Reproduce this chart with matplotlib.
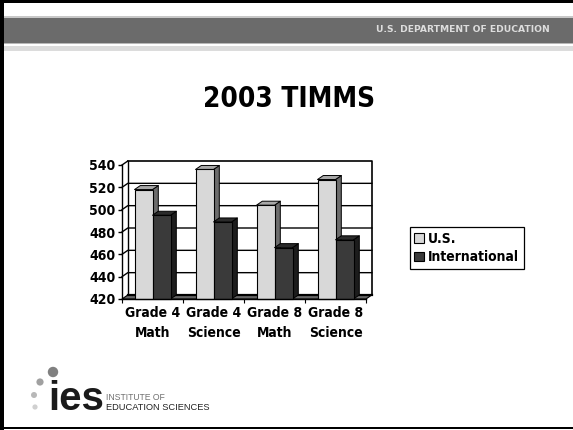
import matplotlib
matplotlib.use("Agg")
import matplotlib.pyplot as plt
from matplotlib.patches import Polygon, Patch, Rectangle, Circle

categories = ["Grade 4\nMath", "Grade 4\nScience", "Grade 8\nMath", "Grade 8\nScience"]
us_values = [518, 536, 504, 527]
intl_values = [495, 489, 466, 473]
y_ticks = [420, 440, 460, 480, 500, 520, 540]
series_names = ["U.S.", "International"]

W, H = 573, 430
FACE_L, TOP_L, SIDE_L = "#d8d8d8", "#a8a8a8", "#6c6c6c"
FACE_D, TOP_D, SIDE_D = "#3a3a3a", "#2b2b2b", "#1c1c1c"
FONT = "DejaVu Sans"

fig = plt.figure(figsize=(W / 100, H / 100), dpi=100, facecolor="white")

# slide furniture, drawn in pixel coordinates
bg = fig.add_axes([0, 0, 1, 1], zorder=0)
bg.set_xlim(0, W)
bg.set_ylim(H, 0)
bg.axis("off")
bg.add_patch(Rectangle((4, 17.5), W, 25, fc="#6b6b6b", ec="none"))
bg.add_patch(Rectangle((4, 16), W, 1.5, fc="#c8c8c8", ec="none"))
bg.add_patch(Rectangle((4, 42.5), W, 1, fc="#b8b8b8", ec="none"))
bg.add_patch(Rectangle((4, 46), W, 4.5, fc="#dcdcdc", ec="none"))
bg.add_patch(Rectangle((0, 0), W, 2.7, fc="black", ec="none"))
bg.add_patch(Rectangle((0, 0), 4.4, H, fc="black", ec="none"))
bg.add_patch(Rectangle((0, 426.5), W, 2.5, fc="black", ec="none"))
bg.text(462.5, 30, "U.S. DEPARTMENT OF EDUCATION", color="#dddddd", fontsize=6.6,
        fontweight="bold", family=FONT, ha="center", va="center")
bg.text(289.5, 99, "2003 TIMMS", fontsize=20, fontweight="bold", family=FONT, stretch="condensed",
        ha="center", va="center", color="black")
for (cx, cy, r, c) in [(53, 372, 5.2, "#808080"), (40, 382, 3.6, "#a0a0a0"),
                       (34, 395, 3.0, "#b8b8b8"), (35, 407, 2.6, "#d0d0d0")]:
    bg.add_patch(Circle((cx, cy), r, fc=c, ec="none"))
bg.text(48, 410, "ies", fontsize=29, fontweight="bold", color="#1a1a1a",
        family="Liberation Sans", ha="left", va="baseline")
bg.text(106, 400.5, "INSTITUTE OF", fontsize=6.2, color="#707070",
        family="Liberation Sans", ha="left", va="baseline")
bg.text(106, 410.5, "EDUCATION SCIENCES", fontsize=6.7, color="#222222",
        family="Liberation Sans", ha="left", va="baseline")

# chart: the axes box is the front plane of the 3D plot
L, R, T, B = 122, 366, 165, 299
ax = fig.add_axes([L / W, 1 - B / H, (R - L) / W, (B - T) / H], zorder=1)
n = len(categories)
ax.set_xlim(0, n)
ax.set_ylim(y_ticks[0], y_ticks[-1])
ax.patch.set_alpha(0)
for s in ax.spines.values():
    s.set_visible(False)

dx = 5.8 * n / (R - L)
dy = 4.0 * (y_ticks[-1] - y_ticks[0]) / (B - T)
y0, y1 = y_ticks[0], y_ticks[-1]

# walls, gridlines
ax.add_patch(Polygon([(dx, y0 + dy), (n + dx, y0 + dy), (n + dx, y1 + dy), (dx, y1 + dy)],
                     closed=True, fc="white", ec="none", clip_on=False, zorder=1))
for v in y_ticks[1:-1]:
    ax.plot([0, dx, n + dx], [v, v + dy, v + dy], color="black", lw=1.0, clip_on=False, zorder=2)
ax.plot([dx, n + dx, n + dx], [y1 + dy, y1 + dy, y0 + dy], color="black", lw=1.2, clip_on=False, zorder=2)
ax.plot([dx, dx], [y0 + dy, y1 + dy], color="black", lw=1.0, clip_on=False, zorder=2)
ax.plot([0, dx], [y1, y1 + dy], color="black", lw=1.0, clip_on=False, zorder=2)
# floor
ax.add_patch(Polygon([(0, y0), (n, y0), (n + dx, y0 + dy), (dx, y0 + dy)], closed=True,
                     fc="#666666", ec="black", lw=0.8, clip_on=False, zorder=3))
ax.plot([dx, n + dx], [y0 + dy, y0 + dy], color="black", lw=1.6, clip_on=False, zorder=3)


def bar3d(x0, x1, v, face, top, side, z):
    ax.add_patch(Polygon([(x1, y0), (x1 + dx, y0 + dy), (x1 + dx, v + dy), (x1, v)], closed=True,
                         fc=side, ec="black", lw=0.7, clip_on=False, zorder=z, joinstyle="round"))
    ax.add_patch(Polygon([(x0, v), (x1, v), (x1 + dx, v + dy), (x0 + dx, v + dy)], closed=True,
                         fc=top, ec="black", lw=0.7, clip_on=False, zorder=z, joinstyle="round"))
    ax.add_patch(Polygon([(x0, y0), (x1, y0), (x1, v), (x0, v)], closed=True,
                         fc=face, ec="black", lw=0.8, clip_on=False, zorder=z + 0.1))


bw = 18 * n / (R - L)
for i in range(n):
    c = i + 0.5
    bar3d(c - bw, c, us_values[i], FACE_L, TOP_L, SIDE_L, 4 + i)
    bar3d(c, c + bw, intl_values[i], FACE_D, TOP_D, SIDE_D, 4.5 + i)

# axes lines and ticks
ax.plot([0, 0], [y0, y1], color="black", lw=1.0, clip_on=False, zorder=20)
ax.plot([0, n], [y0, y0], color="black", lw=1.0, clip_on=False, zorder=20)
ax.set_yticks(y_ticks)
ax.set_yticklabels([str(v) for v in y_ticks], fontsize=10, fontweight="bold", family=FONT, stretch="condensed")
ax.set_xticks(range(n + 1))
ax.set_xticklabels([""] * (n + 1))
ax.tick_params(axis="y", length=3, width=1, pad=1.5, color="black")
ax.tick_params(axis="x", length=3, width=0.8, color="black")
for i, c in enumerate(categories):
    ax.text(i + 0.5, y0 - 6.5, c, ha="center", va="top", fontsize=10, fontweight="bold",
            family=FONT, stretch="condensed", linespacing=1.55, clip_on=False)

leg = fig.legend(
    handles=[Patch(fc=FACE_L, ec="black", lw=0.8, label=series_names[0]),
             Patch(fc=FACE_D, ec="black", lw=0.8, label=series_names[1])],
    loc="center left", bbox_to_anchor=(410 / W, 1 - 248 / H), frameon=True, fancybox=False,
    edgecolor="black", framealpha=1, borderpad=0.32, labelspacing=0.32, handlelength=0.72,
    handleheight=0.7, handletextpad=0.28, borderaxespad=0,
    prop={"family": FONT, "weight": "bold", "size": 10, "stretch": "condensed"})
leg.get_frame().set_linewidth(0.9)

fig.savefig("out.png", dpi=100, facecolor="white")
